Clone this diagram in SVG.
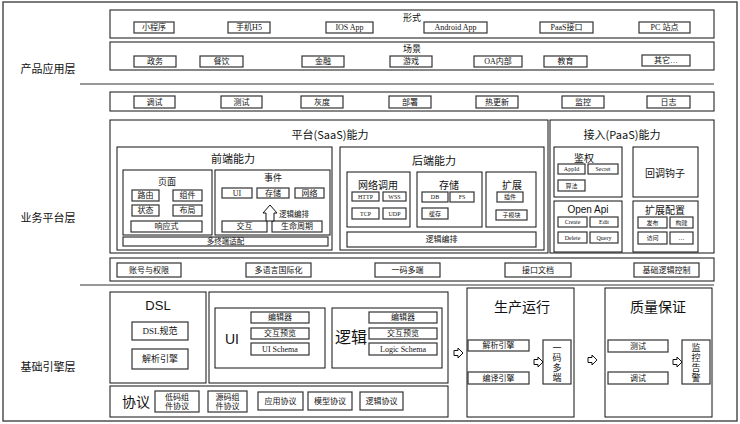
<svg xmlns="http://www.w3.org/2000/svg" width="740" height="424" viewBox="0 0 740 424">
<style>
.f{fill:#fff;stroke:#111;stroke-width:1}
.b{fill:#fff;stroke:#333;stroke-width:1.2}
.t{font-family:"Liberation Serif","Noto Sans CJK SC",serif;font-size:8px;text-anchor:middle;dominant-baseline:central;fill:#111}
.s{font-size:6px}
.h{font-family:"Noto Sans CJK SC","Liberation Sans",sans-serif;font-size:10px;text-anchor:middle;dominant-baseline:central;fill:#111}
.a{font-family:"Liberation Sans","Noto Sans CJK SC",sans-serif;text-anchor:middle;dominant-baseline:central;fill:#111}
.ar{fill:#fff;stroke:#111;stroke-width:1}
.ln{stroke:#333;stroke-width:1}
</style>
<rect x="0" y="0" width="740" height="424" fill="#fff"/>
<rect x="3" y="2" width="734" height="419" fill="none" stroke="#444" stroke-width="1.4"/>

<g id="layer-labels">
<text class="h" x="48" y="68" style="font-size:11px">产品应用层</text>
<text class="h" x="48" y="217" style="font-size:11px">业务平台层</text>
<text class="h" x="48" y="366" style="font-size:11px">基础引擎层</text>
<line class="ln" x1="80" y1="84" x2="714" y2="84"/>
<line class="ln" x1="80" y1="285" x2="714" y2="285"/>
</g>

<g id="xingshi">
<rect class="f" x="110" y="10" width="604" height="28"/>
<text class="h" x="412" y="17" style="font-size:9px">形式</text>
<rect class="b" x="134" y="22" width="40" height="11"/><text class="t" x="154" y="27.5">小程序</text>
<rect class="b" x="228" y="22" width="42" height="11"/><text class="t" x="249" y="27.5">手机H5</text>
<rect class="b" x="326" y="22" width="47" height="11"/><text class="t" x="349.5" y="27.5">IOS App</text>
<rect class="b" x="424" y="22" width="63" height="11"/><text class="t" x="455.5" y="27.5">Android App</text>
<rect class="b" x="540" y="22" width="53" height="11"/><text class="t" x="566.5" y="27.5">PaaS接口</text>
<rect class="b" x="639" y="22" width="51" height="11"/><text class="t" x="664.5" y="27.5">PC 站点</text>
</g>

<g id="changjing">
<rect class="f" x="110" y="42" width="604" height="28"/>
<text class="h" x="412" y="48" style="font-size:9px">场景</text>
<rect class="b" x="134" y="56" width="42" height="11"/><text class="t" x="155" y="61.5">政务</text>
<rect class="b" x="200" y="56" width="43" height="11"/><text class="t" x="221.5" y="61.5">餐饮</text>
<rect class="b" x="302" y="56" width="42" height="11"/><text class="t" x="323" y="61.5">金融</text>
<rect class="b" x="390" y="56" width="42" height="11"/><text class="t" x="411" y="61.5">游戏</text>
<rect class="b" x="474" y="56" width="48" height="11"/><text class="t" x="498" y="61.5">OA内部</text>
<rect class="b" x="544" y="56" width="43" height="11"/><text class="t" x="565.5" y="61.5">教育</text>
<rect class="b" x="642" y="55" width="48" height="11"/><text class="t" x="666" y="60.5">其它…</text>
</g>

<g id="tools">
<rect class="f" x="110" y="92" width="604" height="19"/>
<rect class="b" x="134" y="96" width="41" height="12"/><text class="t" x="154.5" y="102">调试</text>
<rect class="b" x="221" y="96" width="41" height="12"/><text class="t" x="241.5" y="102">测试</text>
<rect class="b" x="301" y="96" width="42" height="12"/><text class="t" x="322" y="102">灰度</text>
<rect class="b" x="389" y="96" width="42" height="12"/><text class="t" x="410" y="102">部署</text>
<rect class="b" x="476" y="96" width="42" height="12"/><text class="t" x="497" y="102">热更新</text>
<rect class="b" x="562" y="96" width="42" height="12"/><text class="t" x="583" y="102">监控</text>
<rect class="b" x="647" y="96" width="43" height="12"/><text class="t" x="668.5" y="102">日志</text>
</g>

<g id="saas">
<rect class="f" x="110" y="120" width="438" height="133"/>
<text class="h" x="330" y="134" style="font-size:11px">平台(SaaS)能力</text>
</g>

<g id="frontend">
<rect class="f" x="117" y="147" width="215" height="103"/>
<text class="h" x="233" y="158" style="font-size:11px">前端能力</text>
<rect class="f" x="123" y="170" width="89" height="65"/>
<text class="h" x="167" y="181" style="font-size:9px">页面</text>
<rect class="b" x="132" y="190" width="27" height="11"/><text class="t" x="145.5" y="195.5">路由</text>
<rect class="b" x="173" y="190" width="29" height="11"/><text class="t" x="187.5" y="195.5">组件</text>
<rect class="b" x="132" y="205" width="27" height="11"/><text class="t" x="145.5" y="210.5">状态</text>
<rect class="b" x="173" y="205" width="29" height="11"/><text class="t" x="187.5" y="210.5">布局</text>
<rect class="b" x="131" y="221" width="71" height="11"/><text class="t" x="166.5" y="226.5">响应式</text>
<rect class="f" x="215" y="170" width="115" height="65"/>
<text class="h" x="273" y="177" style="font-size:9px">事件</text>
<rect class="b" x="222" y="188" width="30" height="10"/><text class="t" x="237" y="193">UI</text>
<rect class="b" x="257" y="188" width="32" height="10"/><text class="t" x="273" y="193">存储</text>
<rect class="b" x="295" y="188" width="29" height="10"/><text class="t" x="309.5" y="193">网络</text>
<text class="t" x="294" y="214" style="font-size:7.5px">逻辑编排</text>
<rect class="b" x="222" y="221" width="45" height="11"/><text class="t" x="244.5" y="226.5">交互</text>
<rect class="b" x="272" y="221" width="50" height="11"/><text class="t" x="297" y="226.5">生命周期</text>
<rect class="b" x="123" y="237" width="205" height="9"/><text class="t" x="225.5" y="241.5" style="font-size:7.5px">多终端适配</text>
</g>

<g id="backend">
<rect class="f" x="340" y="147" width="204" height="103"/>
<text class="h" x="434" y="160" style="font-size:11px">后端能力</text>
<rect class="f" x="347" y="172" width="63" height="55"/>
<text class="h" x="378" y="184">网络调用</text>
<rect class="b" x="352" y="192" width="27" height="9"/><text class="t s" x="365.5" y="196.5">HTTP</text>
<rect class="b" x="383" y="192" width="23" height="9"/><text class="t s" x="394.5" y="196.5">WSS</text>
<rect class="b" x="352" y="208" width="27" height="11"/><text class="t s" x="365.5" y="213.5">TCP</text>
<rect class="b" x="383" y="208" width="23" height="11"/><text class="t s" x="394.5" y="213.5">UDP</text>
<rect class="f" x="417" y="172" width="65" height="55"/>
<text class="h" x="449" y="184">存储</text>
<rect class="b" x="422" y="192" width="26" height="10"/><text class="t s" x="435" y="197">DB</text>
<rect class="b" x="450" y="192" width="24" height="10"/><text class="t s" x="462" y="197">FS</text>
<rect class="b" x="422" y="208" width="26" height="11"/><text class="t s" x="435" y="213.5">缓存</text>
<rect class="f" x="486" y="172" width="50" height="55"/>
<text class="h" x="512" y="184">扩展</text>
<rect class="b" x="497" y="192" width="26" height="10"/><text class="t s" x="510" y="197">插件</text>
<rect class="b" x="496" y="210" width="31" height="10"/><text class="t s" x="511.5" y="215">子模块</text>
<rect class="b" x="347" y="232" width="189" height="15"/><text class="t" x="441.5" y="239.5">逻辑编排</text>
</g>

<g id="paas">
<rect class="f" x="550" y="120" width="164" height="133"/>
<text class="h" x="622" y="134" style="font-size:11px">接入(PaaS)能力</text>
<rect class="f" x="554" y="147" width="68" height="50"/>
<text class="h" x="584" y="157">鉴权</text>
<rect class="b" x="558" y="164" width="27" height="10"/><text class="t s" x="571.5" y="169">AppId</text>
<rect class="b" x="588" y="164" width="30" height="10"/><text class="t s" x="603" y="169">Secret</text>
<rect class="b" x="558" y="180" width="27" height="11"/><text class="t s" x="571.5" y="185.5">算法</text>
<rect class="f" x="633" y="147" width="65" height="50"/>
<text class="h" x="665" y="172">回调钩子</text>
<rect class="f" x="554" y="201" width="68" height="51"/>
<text class="a" x="588" y="209" style="font-size:10px">Open Api</text>
<rect class="b" x="558" y="217" width="29" height="10"/><text class="t s" x="572.5" y="222">Create</text>
<rect class="b" x="590" y="217" width="28" height="10"/><text class="t s" x="604" y="222">Edit</text>
<rect class="b" x="558" y="232" width="29" height="11"/><text class="t s" x="572.5" y="237.5">Delete</text>
<rect class="b" x="590" y="232" width="28" height="11"/><text class="t s" x="604" y="237.5">Query</text>
<rect class="f" x="633" y="201" width="65" height="51"/>
<text class="h" x="665" y="209">扩展配置</text>
<rect class="b" x="638" y="217" width="29" height="11"/><text class="t s" x="652.5" y="222.5">发布</text>
<rect class="b" x="670" y="217" width="23" height="11"/><text class="t s" x="681.5" y="222.5">构建</text>
<rect class="b" x="638" y="232" width="29" height="12"/><text class="t s" x="652.5" y="238">访问</text>
<rect class="b" x="670" y="232" width="23" height="12"/><text class="t s" x="681.5" y="238">…</text>
</g>

<g id="common">
<rect class="f" x="110" y="258" width="604" height="23"/>
<rect class="b" x="117" y="263" width="64" height="14"/><text class="t" x="149" y="270">账号与权限</text>
<rect class="b" x="246" y="263" width="65" height="14"/><text class="t" x="278.5" y="270">多语言国际化</text>
<rect class="b" x="375" y="263" width="65" height="14"/><text class="t" x="407.5" y="270">一码多端</text>
<rect class="b" x="505" y="263" width="66" height="14"/><text class="t" x="538" y="270">接口文档</text>
<rect class="b" x="634" y="263" width="65" height="14"/><text class="t" x="666.5" y="270">基础逻辑控制</text>
</g>

<g id="dsl">
<rect class="f" x="110" y="292" width="96" height="91"/>
<text class="a" x="158" y="305" style="font-size:13px">DSL</text>
<rect class="b" x="132" y="322" width="56" height="18"/><text class="t" x="160" y="331" style="font-size:9px">DSL规范</text>
<rect class="b" x="132" y="349" width="56" height="20"/><text class="t" x="160" y="359" style="font-size:9px">解析引擎</text>
</g>

<g id="editor">
<rect class="f" x="209" y="292" width="239" height="91"/>
<rect class="f" x="215" y="308" width="110" height="60"/>
<text class="a" x="232" y="339" style="font-size:14px">UI</text>
<rect class="b" x="251" y="312" width="58" height="11"/><text class="t" x="280" y="317.5">编辑器</text>
<rect class="b" x="251" y="328" width="58" height="11"/><text class="t" x="280" y="333.5">交互预览</text>
<rect class="b" x="251" y="343" width="58" height="12"/><text class="t" x="280" y="349">UI Schema</text>
<rect class="f" x="332" y="308" width="110" height="60"/>
<text class="a" x="351" y="337" style="font-size:16px">逻辑</text>
<rect class="b" x="369" y="312" width="68" height="11"/><text class="t" x="403" y="317.5">编辑器</text>
<rect class="b" x="369" y="328" width="68" height="11"/><text class="t" x="403" y="333.5">交互预览</text>
<rect class="b" x="369" y="343" width="68" height="12"/><text class="t" x="403" y="349">Logic Schema</text>
</g>

<g id="protocol">
<rect class="f" x="110" y="386" width="338" height="31"/>
<text class="a" x="136" y="402" style="font-size:14px">协议</text>
<rect class="b" x="155" y="391" width="44" height="21"/><text class="t" x="177" y="397">低码组</text><text class="t" x="177" y="406.5">件协议</text>
<rect class="b" x="208" y="391" width="39" height="21"/><text class="t" x="227.5" y="397">源码组</text><text class="t" x="227.5" y="406.5">件协议</text>
<rect class="b" x="258" y="392" width="45" height="18"/><text class="t" x="280.5" y="401">应用协议</text>
<rect class="b" x="308" y="392" width="44" height="18"/><text class="t" x="330" y="401">模型协议</text>
<rect class="b" x="360" y="392" width="43" height="18"/><text class="t" x="381.5" y="401">逻辑协议</text>
</g>

<g id="runtime">
<rect class="f" x="467" y="288" width="107" height="129"/>
<text class="a" x="522" y="307" style="font-size:14px">生产运行</text>
<rect class="b" x="468" y="340" width="61" height="11"/><text class="t" x="498.5" y="345.5">解析引擎</text>
<rect class="b" x="468" y="372" width="61" height="12"/><text class="t" x="498.5" y="378">编译引擎</text>
<rect class="b" x="543" y="340" width="28" height="44"/>
<text class="t" x="557" y="348" style="font-size:9px">一</text><text class="t" x="557" y="358" style="font-size:9px">码</text><text class="t" x="557" y="368" style="font-size:9px">多</text><text class="t" x="557" y="378" style="font-size:9px">端</text>
</g>

<g id="quality">
<rect class="f" x="605" y="288" width="107" height="129"/>
<text class="a" x="658" y="307" style="font-size:14px">质量保证</text>
<rect class="b" x="608" y="340" width="60" height="12"/><text class="t" x="638" y="346">测试</text>
<rect class="b" x="608" y="372" width="60" height="12"/><text class="t" x="638" y="378">调试</text>
<rect class="b" x="682" y="340" width="28" height="44"/>
<text class="t" x="696" y="348" style="font-size:9px">监</text><text class="t" x="696" y="358" style="font-size:9px">控</text><text class="t" x="696" y="368" style="font-size:9px">告</text><text class="t" x="696" y="378" style="font-size:9px">警</text>
</g>

<g id="connectors">
<polygon class="ar" points="266,221 266,213 263,213 270,205 277,213 274,213 274,221"/>
<polygon class="ar" points="454,350.5 458,350.5 458,348 463,353 458,358 458,355.5 454,355.5"/>
<polygon class="ar" points="534,359.5 538,359.5 538,357 543,362 538,367 538,364.5 534,364.5"/>
<polygon class="ar" points="588,357.5 592,357.5 592,355 597,360 592,365 592,362.5 588,362.5"/>
<polygon class="ar" points="673,359.5 677,359.5 677,357 682,362 677,367 677,364.5 673,364.5"/>
</g>
</svg>
